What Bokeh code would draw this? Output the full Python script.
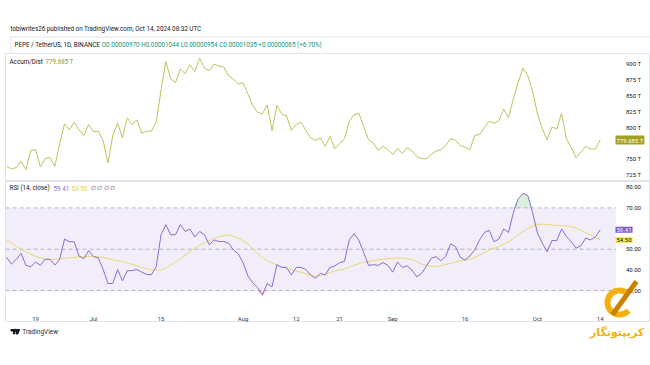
import numpy as np
import pandas as pd
from bokeh.plotting import figure
from bokeh.layouts import column
from bokeh.models import Range1d, FixedTicker, BoxAnnotation, Label, PolyAnnotation
from bokeh.embed import file_html
from bokeh.resources import INLINE
from bokeh.core.properties import value

# ---------------- data ----------------
start_date = "2024-06-13"

# Accumulation/Distribution (in T)
ad_values = [738.2, 734.0, 736.2, 746.5, 733.0, 763.4, 764.5, 737.1, 750.3, 751.9,
             738.2, 773.9, 805.3, 795.9, 807.9, 795.9, 787.0, 804.2, 793.2, 793.7,
             779.1, 743.4, 787.0, 806.3, 783.3, 814.8, 804.2, 811.6, 790.6, 793.7,
             793.7, 807.9, 858.8, 903.8, 876.1, 870.8, 891.8, 884.9, 898.6, 888.1,
             909.1, 893.4, 889.2, 899.7, 896.5, 895.4, 881.3, 876.1, 868.2, 870.3,
             852.5, 834.1, 823.6, 821.1, 835.2, 794.8, 834.1, 821.1, 817.9, 794.8,
             804.2, 807.9, 794.8, 783.3, 779.1, 783.3, 769.7, 785.4, 766.0, 773.9,
             781.8, 809.4, 820.0, 822.0, 801.1, 780.2, 774.8, 763.4, 770.1, 764.5,
             756.6, 767.0, 758.2, 767.6, 762.3, 753.9, 750.3, 750.3, 757.1, 762.3,
             764.5, 771.2, 781.8, 779.1, 771.2, 768.6, 764.5, 787.0, 788.5, 799.1,
             809.4, 806.3, 810.5, 828.9, 814.8, 844.7, 870.8, 893.4, 881.3, 856.6,
             821.1, 797.5, 780.2, 800.0, 797.5, 822.0, 781.8, 767.6, 751.9, 760.7,
             769.7, 765.4, 765.4, 779.685]

# RSI (14, close)
rsi_values = [46.1, 42.8, 45.1, 48.0, 42.2, 41.5, 43.8, 42.2, 45.1, 45.1,
              42.3, 45.1, 54.9, 53.6, 53.6, 46.7, 45.4, 49.3, 46.4, 45.8,
              40.2, 33.4, 33.4, 40.2, 34.7, 39.6, 39.6, 40.2, 38.9, 37.8,
              37.6, 41.5, 57.0, 61.9, 57.0, 57.0, 61.9, 58.6, 59.8, 55.9,
              58.6, 57.0, 52.1, 54.5, 53.7, 53.7, 52.9, 49.7, 47.7, 43.5,
              37.0, 33.7, 31.5, 27.7, 33.4, 31.8, 42.5, 41.2, 41.2, 37.5,
              41.2, 41.2, 40.2, 37.5, 35.9, 38.3, 37.5, 41.2, 41.9, 43.5,
              44.1, 54.5, 57.5, 54.2, 48.3, 42.2, 42.5, 42.2, 43.5, 42.2,
              38.9, 43.8, 41.2, 41.9, 39.9, 36.6, 38.3, 41.9, 45.6, 46.4,
              44.4, 46.7, 52.6, 51.3, 46.1, 44.8, 46.7, 49.7, 54.5, 58.1,
              59.1, 53.6, 54.9, 59.8, 58.1, 67.6, 74.4, 77.0, 76.0, 67.6,
              57.8, 52.9, 48.8, 54.2, 54.2, 59.8, 56.1, 53.6, 50.5, 51.6,
              55.4, 54.5, 55.9, 59.41]

# RSI-based moving average, read every second day (plus the last day)
rsi_ma_values = [54.5, 51.4, 48.8, 46.5, 45.2, 45.1, 45.5, 46.0, 46.5, 46.6,
                 45.9, 44.9, 44.0, 42.7, 41.2, 39.9, 39.8, 42.3, 45.5, 48.9,
                 51.9, 54.2, 56.1, 56.9, 55.3, 52.6, 47.8, 44.3, 42.3, 40.6,
                 39.4, 38.2, 36.8, 37.8, 39.5, 40.4, 42.2, 43.8, 44.4, 45.3,
                 45.6, 45.8, 45.0, 42.8, 41.6, 41.9, 43.2, 44.3, 45.1, 47.1,
                 49.6, 51.3, 53.5, 57.0, 60.0, 62.1, 62.0, 61.4, 61.4, 60.3,
                 58.0, 55.7, 54.5]
rsi_ma_step_days = 2

x_tick_dates = ["2024-06-19", "2024-07-01", "2024-07-15", "2024-08-01", "2024-08-12",
                "2024-08-21", "2024-09-01", "2024-09-16", "2024-10-01", "2024-10-14"]
x_tick_labels = ["19", "Jul", "15", "Aug", "12", "21", "Sep", "16", "Oct", "14"]

ad_ticks = [725, 750, 800, 825, 850, 875, 900]
ad_tick_labels = ["725 T", "750 T", "800 T", "825 T", "850 T", "875 T", "900 T"]
rsi_ticks = [30, 40, 50, 70, 80]
rsi_tick_labels = ["30.00", "40.00", "50.00", "70.00", "80.00"]
rsi_levels = [70, 50, 30]

ad_last = 779.685
rsi_last = 59.41
rsi_ma_last = 54.50

byline = "tobiwrites26 published on TradingView.com, Oct 14, 2024 08:32 UTC"
symbol_text = "PEPE / TetherUS, 1D, BINANCE"
ohlc_text = "O0.00000970 H0.00001044 L0.00000954 C0.00001035 +0.00000065 (+6.70%)"
logo_text = "کریپتونگار"

# ---------------- styling ----------------
W = 650
FONT = "Roboto"
FS = "6.3px"
GRID = "#e0e3eb"
TXT = "#131722"
AD_COLOR = "#c2bf5c"
RSI_COLOR = "#8d70d2"
MA_COLOR = "#f4e76b"
GOLD = "#f2b10c"

dates = pd.date_range(start_date, periods=len(ad_values), freq="D")
ma_dates = list(dates[::rsi_ma_step_days]) + [dates[-1]]
DAY = pd.Timedelta(days=1)
PX_PER_DAY = 4.826
x_start = dates[0] - 0.23 * DAY
x_end = x_start + (W - 5) / PX_PER_DAY * DAY
scale_loc = dates[-1] + 3.25 * DAY          # where the price scale begins
scale_ms = scale_loc.value / 1e6
x_range = Range1d(x_start, x_end)
tick_ms = [int(pd.Timestamp(d).value // 10**6) for d in x_tick_dates]


def blank(h):
    p = figure(width=W, height=h, x_range=Range1d(0, W), y_range=Range1d(h, 0),
               x_axis_location=None, y_axis_location=None, toolbar_location=None,
               output_backend="svg", min_border=0, outline_line_color=None)
    p.xgrid.visible = False
    p.ygrid.visible = False
    return p


def style_yaxis(p, ticks, labels):
    ax = p.yaxis[0]
    ax.fixed_location = scale_ms
    ax.ticker = FixedTicker(ticks=ticks)
    ax.major_label_overrides = {t: l for t, l in zip(ticks, labels)}
    ax.axis_line_color = None
    ax.major_tick_line_color = None
    ax.minor_tick_line_color = None
    ax.major_label_text_font = FONT
    ax.major_label_text_font_size = "6px"
    ax.major_label_text_color = TXT
    ax.major_label_standoff = 4


def pane(h, yr, xaxis=None):
    p = figure(width=W, height=h, x_range=x_range, y_range=yr, x_axis_type="datetime",
               x_axis_location=xaxis, y_axis_location="right", toolbar_location=None,
               output_backend="svg", min_border_left=5, min_border_right=0,
               min_border_top=0, min_border_bottom=0, outline_line_color=GRID)
    p.xgrid.visible = False
    p.ygrid.visible = False
    return p


def tag(p, y, text, bg, fg):
    p.add_layout(Label(x=610, y=y, x_units="screen", y_units="data", text=text,
                       text_font=FONT, text_font_size="6px", text_color=fg,
                       text_baseline="middle", background_fill_color=bg, padding=1))


# ---------------- header ----------------
head = blank(53)
head.text(x=[5], y=[28], text=[byline], text_font=value(FONT), text_font_size=FS,
          text_baseline="middle", text_color=TXT)
head.segment(x0=[5, 5.5], y0=[36.5, 36.5], x1=[W, 5.5], y1=[36.5, 53],
             line_color=GRID, line_width=1)
head.text(x=[9], y=[44.5], text=[symbol_text], text_font=value(FONT), text_font_size=FS,
          text_baseline="middle", text_color=TXT)
head.text(x=[97], y=[44.5], text=[ohlc_text], text_font=value(FONT), text_font_size=FS,
          text_baseline="middle", text_color="#089981")

# ---------------- Accum/Dist pane ----------------
ad = pane(128, Range1d(714.2, 916.5))
style_yaxis(ad, ad_ticks, ad_tick_labels)
ad.line(dates, ad_values, line_color=AD_COLOR, line_width=1)
ad.add_layout(Label(x=4, y=903, x_units="screen", y_units="data", text="Accum/Dist",
                    text_font=FONT, text_font_size=FS, text_color=TXT, text_baseline="middle"))
ad.add_layout(Label(x=40, y=903, x_units="screen", y_units="data", text=f"{ad_last:.3f} T",
                    text_font=FONT, text_font_size=FS, text_color="#999915",
                    text_baseline="middle"))
tag(ad, ad_last, f"{ad_last:.3f} T", "#a3a11f", "white")

# ---------------- RSI pane (with time axis inside) ----------------
rs = pane(141, Range1d(14.52, 82.77), xaxis="below")
style_yaxis(rs, rsi_ticks, rsi_tick_labels)
xa = rs.xaxis[0]
xa.fixed_location = 22.75
xa.ticker = FixedTicker(ticks=tick_ms)
xa.major_label_overrides = {t: l for t, l in zip(tick_ms, x_tick_labels)}
xa.axis_line_color = None
xa.major_tick_line_color = None
xa.minor_tick_line_color = None
xa.major_label_standoff = 4
xa.major_label_text_font = FONT
xa.major_label_text_font_size = "6px"
xa.major_label_text_color = "#3a3d47"

rs.add_layout(BoxAnnotation(bottom=30, top=70, right=scale_ms, fill_color="#7e57c2",
                            fill_alpha=0.1, line_color=None))
rs.segment(x0=[x_start] * len(rsi_levels), x1=[scale_loc] * len(rsi_levels),
           y0=rsi_levels, y1=rsi_levels, line_color="#9598a1", line_dash="4 3",
           line_width=1, line_alpha=0.65)

rsi_arr = np.array(rsi_values)
rs.varea(x=dates, y1=70, y2=np.maximum(rsi_arr, 70), fill_color="#4caf50", fill_alpha=0.2)
rs.varea(x=dates, y1=np.minimum(rsi_arr, 30), y2=30, fill_color="#f23645", fill_alpha=0.2)
rs.line(ma_dates, rsi_ma_values, line_color=MA_COLOR, line_width=1)
rs.line(dates, rsi_values, line_color=RSI_COLOR, line_width=1)

legend_items = [(4, "RSI (14, close)", TXT), (48, f"{rsi_last:.2f}", RSI_COLOR),
                (66, f"{rsi_ma_last:.2f}", "#e8d43a"), (85, "∅  ∅  ∅  ∅", "#5d606b")]
for lx, lt, lc in legend_items:
    rs.add_layout(Label(x=lx, y=79.4, x_units="screen", y_units="data", text=lt,
                        text_font=FONT, text_font_size=FS, text_color=lc,
                        text_baseline="middle"))
tag(rs, rsi_last, f"{rsi_last:.2f}", "#7e57c2", "white")
tag(rs, rsi_ma_last, f"{rsi_ma_last:.2f}", "#f7e85b", TXT)

# watermark logo (gold "C" with a chain)
k = 2.066          # px per RSI unit
cy, cx = 24.2, 614
R_out, R_in = 15, 9
th = np.radians(np.linspace(48, 318, 50))
xs = np.concatenate([cx + R_out * np.cos(th), cx + R_in * np.cos(th[::-1])])
ys = np.concatenate([cy + R_out * np.sin(th) / k, cy + R_in * np.sin(th[::-1]) / k])
rs.add_layout(PolyAnnotation(xs=list(xs), ys=list(ys), xs_units="screen", ys_units="data",
                             fill_color=GOLD, fill_alpha=1.0, line_color=None))
rs.add_layout(PolyAnnotation(xs=[629, 633, 609, 605], ys=[35.1, 33.7, 17.7, 19.1],
                             xs_units="screen", ys_units="data",
                             fill_color="#c98200", fill_alpha=1.0, line_color=None))

# ---------------- footer ----------------
foot = blank(38)
foot.patch(x=[5.5, 9.2, 9.2, 8.0, 8.0, 5.5], y=[7.0, 7.0, 11.5, 11.5, 8.5, 8.5], color=TXT)
foot.scatter(x=[10.4], y=[7.8], size=2.2, color=TXT)
foot.patch(x=[11.2, 14.2, 12.4, 10.6], y=[7.0, 7.0, 11.5, 11.5], color=TXT)
foot.text(x=[17], y=[9], text=["TradingView"], text_font=value(FONT), text_font_size="6.5px",
          text_baseline="middle", text_color="#2a2e39")
foot.text(x=[589], y=[9.5], text=[logo_text], text_font=value("DejaVu Sans"),
          text_font_style="bold", text_font_size="11px", text_align="left",
          text_baseline="middle", text_color=GOLD)

layout = column(head, ad, rs, foot)
open("out.html", "w").write(file_html(layout, INLINE))
